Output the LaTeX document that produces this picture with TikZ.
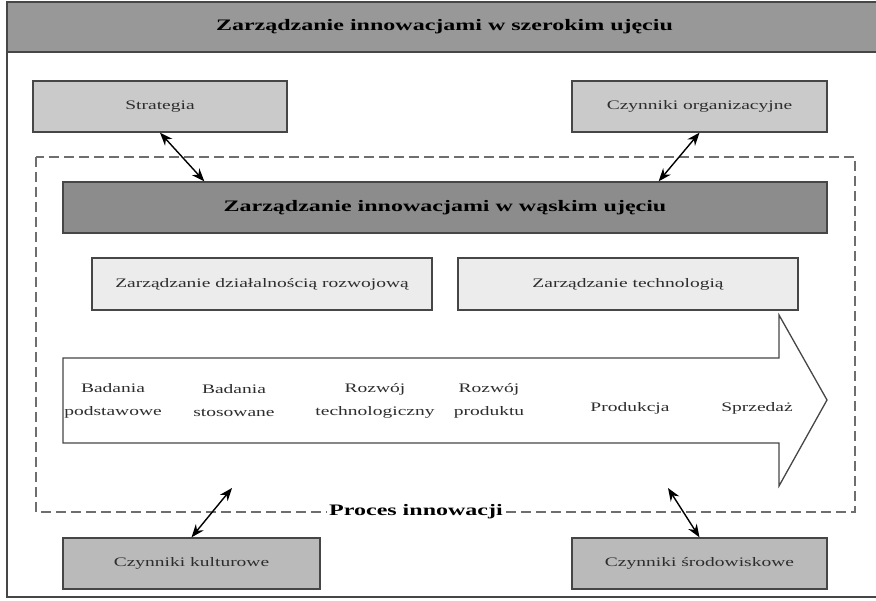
\documentclass[tikz,border=0pt]{standalone}
\usepackage{fontspec}
\setmainfont{Liberation Serif}[FakeStretch=1.5]
\usetikzlibrary{arrows.meta}
\definecolor{titlegray}{RGB}{152,152,152}
\definecolor{darkgray}{RGB}{140,140,140}
\definecolor{lightgray}{RGB}{202,202,202}
\definecolor{palegray}{RGB}{236,236,236}
\definecolor{midgray}{RGB}{186,186,186}
\definecolor{edgegray}{RGB}{70,70,70}
\definecolor{dashgray}{RGB}{110,110,110}
\definecolor{textgray}{RGB}{45,45,45}
\tikzset{
  box/.style={draw=edgegray, line width=1.3pt, inner sep=0pt, align=center,
    font=\fontsize{13}{15}\selectfont, text=textgray},
  boldbox/.style={box, font=\fontsize{16}{18}\selectfont\bfseries, text=black},
  steplabel/.style={align=center, font=\fontsize{13}{23}\selectfont, text=textgray, inner sep=0pt},
  dblarrow/.style={line width=1.4pt, {Stealth[length=13pt,width=10pt]}-{Stealth[length=13pt,width=10pt]}},
  dashframe/.style={draw=dashgray, line width=1.6pt, dash pattern=on 10pt off 5pt},
}
\begin{document}
\begin{tikzpicture}[x=1pt,y=-1pt]
\useasboundingbox (0,0) rectangle (876,601);
% outer frame
\draw[edgegray, line width=2pt] (7,2) -- (7,597) -- (876,597);
\node[boldbox, fill=titlegray, line width=1.6pt, minimum width=875pt, minimum height=50pt] (title) at (444.5,27) {Zarządzanie innowacjami w szerokim ujęciu};
% dashed frame
\draw[dashframe] (36,157) rectangle (855,512);
\node[font=\fontsize{16}{18}\selectfont\bfseries, fill=white, inner sep=2pt] (proc) at (416,512) {Proces innowacji};
% top boxes
\node[box, fill=lightgray, minimum width=254pt, minimum height=51pt] (strat) at (160,106.5) {Strategia};
\node[box, fill=lightgray, minimum width=255pt, minimum height=51pt] (org) at (699.5,106.5) {Czynniki organizacyjne};
\node[boldbox, fill=darkgray, minimum width=764pt, minimum height=51pt] (narrow) at (445,207.5) {Zarządzanie innowacjami w wąskim ujęciu};
\node[box, fill=palegray, minimum width=340pt, minimum height=52pt] (rozw) at (262,284) {Zarządzanie działalnością rozwojową};
\node[box, fill=palegray, minimum width=340pt, minimum height=52pt] (tech) at (628,284) {Zarządzanie technologią};
% process arrow
\draw[edgegray, line width=1.3pt, fill=white] (63,358) -- (779,358) -- (779,315) -- (827,400) -- (779,486) -- (779,443) -- (63,443) -- cycle;
\node[steplabel] (s1) at (113,401) {Badania\\podstawowe};
\node[steplabel] (s2) at (234,401) {Badania\\stosowane};
\node[steplabel] (s3) at (375,401) {Rozwój\\technologiczny};
\node[steplabel] (s4) at (489,401) {Rozwój\\produktu};
\node[steplabel] (s5) at (630,408) {Produkcja};
\node[steplabel] (s6) at (757,408) {Sprzedaż};
% bottom boxes
\node[box, fill=midgray, minimum width=257pt, minimum height=51pt] (kult) at (191.5,563.5) {Czynniki kulturowe};
\node[box, fill=midgray, minimum width=255pt, minimum height=51pt] (srod) at (699.5,563.5) {Czynniki środowiskowe};
% connectors
\coordinate (c3) at (232,488);
\coordinate (c4) at (668,488);
\draw[dblarrow] (strat.south) -- ([xshift=142pt]narrow.north west);
\draw[dblarrow] (org.south) -- ([xshift=-169pt]narrow.north east);
\draw[dblarrow] (kult.north) -- (c3);
\draw[dblarrow] (srod.north) -- (c4);
\end{tikzpicture}
\end{document}
